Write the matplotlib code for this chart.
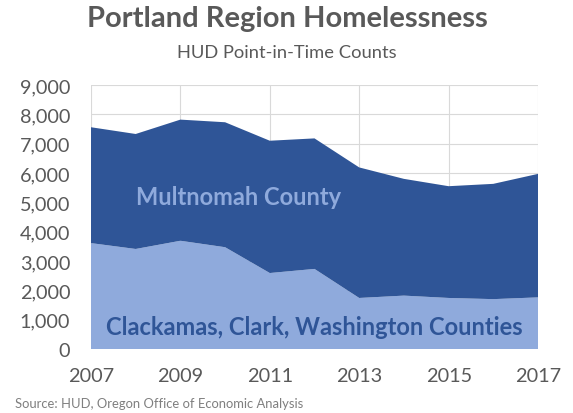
import numpy as np
import matplotlib
matplotlib.use("Agg")
import matplotlib.pyplot as plt

plt.rcParams["font.family"] = ["Lato", "DejaVu Sans"]

years = [2007, 2008, 2009, 2010, 2011, 2012, 2013, 2014, 2015, 2016, 2017]
# Clackamas, Clark, Washington counties combined
suburbs = [3610, 3410, 3690, 3470, 2590, 2730, 1740, 1820, 1740, 1700, 1760]
# Regional total (Multnomah sits on top of the suburban counties)
total = [7560, 7330, 7820, 7730, 7100, 7180, 6190, 5800, 5550, 5630, 5970]
multnomah = [t - s for t, s in zip(total, suburbs)]

dark = "#2F5597"
light = "#8FAADC"
gray = "#595959"

fig = plt.figure(figsize=(5.73, 4.14), dpi=100)
ax = fig.add_axes([91 / 573, 1 - 350 / 414, (538 - 91) / 573, (350 - 86) / 414])

ax.stackplot(years, suburbs, multnomah, colors=[light, dark], linewidth=0)

ax.set_xlim(2007, 2017)
ax.set_ylim(0, 9000)
ax.set_xticks(range(2007, 2018, 2))
ax.set_yticks(range(0, 9001, 1000))
ax.yaxis.set_major_formatter(matplotlib.ticker.FuncFormatter(lambda v, p: f"{int(v):,}"))
ax.grid(True, color="#D9D9D9", linewidth=0.8)
ax.set_axisbelow(True)
for s in ax.spines.values():
    s.set_visible(False)
ax.tick_params(length=0, labelsize=14.3, labelcolor=gray)
ax.tick_params(axis="y", pad=15)
ax.tick_params(axis="x", pad=13)

ax.text(2010.3, 5200, "Multnomah County", color=light, fontsize=17,
        fontweight="bold", ha="center", va="center")
ax.text(2012.0, 760, "Clackamas, Clark, Washington Counties", color=dark,
        fontsize=17, fontweight="bold", ha="center", va="center")

fig.text(287 / 573, 1 - 19 / 414, "Portland Region Homelessness", color=gray,
         fontsize=21, fontweight="bold", ha="center", va="center")
fig.text(287 / 573, 1 - 53 / 414, "HUD Point-in-Time Counts", color=gray,
         fontsize=13.2, ha="center", va="center")
fig.text(15 / 573, 1 - 404 / 414, "Source: HUD, Oregon Office of Economic Analysis",
         color="#7F7F7F", fontsize=9.4, ha="left", va="center")

fig.savefig("out.png", dpi=100)
